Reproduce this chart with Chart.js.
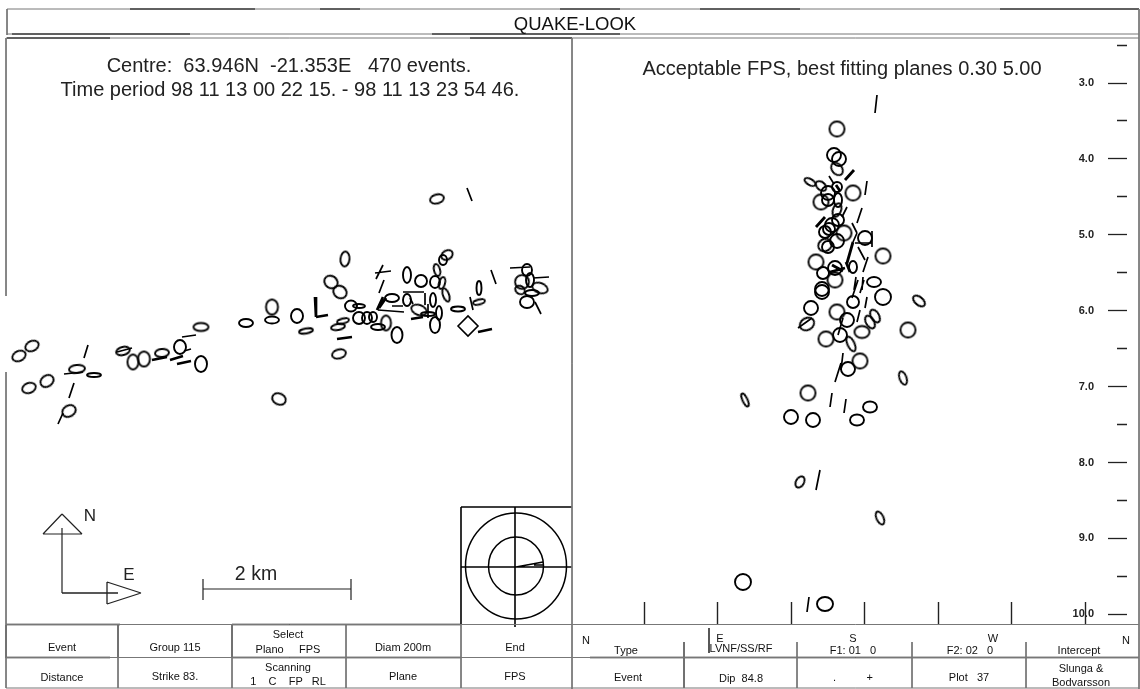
<!DOCTYPE html>
<html>
<head>
<meta charset="utf-8">
<title>QUAKE-LOOK</title>
<script src="https://cdn.jsdelivr.net/npm/chart.js@4"></script>
<style>
    html, body { margin: 0; background: #fff; }
    #page { position: relative; width: 1140px; height: 689px; overflow: hidden; filter: blur(0.35px); }
    #chart { position: absolute; left: 0; top: 0; }
    .t { position: absolute; transform: translate(-50%, -50%); white-space: pre; color: #111;
         font-family: "Liberation Sans", Arial, sans-serif; font-size: 11px; }
    .big { font-size: 20px; color: #222; }
    .head { font-size: 18.5px; }
</style>
</head>
<body>
<div id="page">
    <canvas id="chart" width="1140" height="689"></canvas>
    <div class="t head" style="left:575px;top:24px">QUAKE-LOOK</div>
    <div class="t big" style="left:289px;top:65px">Centre:  63.946N  -21.353E   470 events.</div>
    <div class="t big" style="left:290px;top:89px">Time period 98 11 13 00 22 15. - 98 11 13 23 54 46.</div>
    <div class="t big" style="left:842px;top:68px">Acceptable FPS, best fitting planes 0.30 5.00</div>
    <div class="t big" style="left:90px;top:516px;font-size:17px">N</div>
    <div class="t big" style="left:129px;top:575px;font-size:17px">E</div>
    <div class="t big" style="left:256px;top:573px;font-size:19.5px">2 km</div>

    <div class="t" style="left:62px;top:647px">Event</div>
    <div class="t" style="left:175px;top:647px">Group 115</div>
    <div class="t" style="left:288px;top:634px">Select</div>
    <div class="t" style="left:288px;top:649px">Plano     FPS</div>
    <div class="t" style="left:403px;top:647px">Diam 200m</div>
    <div class="t" style="left:515px;top:647px">End</div>
    <div class="t" style="left:62px;top:677px">Distance</div>
    <div class="t" style="left:175px;top:676px">Strike 83.</div>
    <div class="t" style="left:288px;top:667px">Scanning</div>
    <div class="t" style="left:288px;top:681px">1    C    FP   RL</div>
    <div class="t" style="left:403px;top:676px">Plane</div>
    <div class="t" style="left:515px;top:676px">FPS</div>

    <div class="t" style="left:586px;top:640px">N</div>
    <div class="t" style="left:626px;top:650px">Type</div>
    <div class="t" style="left:720px;top:638px">E</div>
    <div class="t" style="left:741px;top:648px">LVNF/SS/RF</div>
    <div class="t" style="left:853px;top:638px">S</div>
    <div class="t" style="left:853px;top:650px">F1: 01   0</div>
    <div class="t" style="left:993px;top:638px">W</div>
    <div class="t" style="left:970px;top:650px">F2: 02   0</div>
    <div class="t" style="left:1126px;top:640px">N</div>
    <div class="t" style="left:1079px;top:650px">Intercept</div>
    <div class="t" style="left:628px;top:677px">Event</div>
    <div class="t" style="left:741px;top:678px">Dip  84.8</div>
    <div class="t" style="left:853px;top:677px">.          +</div>
    <div class="t" style="left:969px;top:677px">Plot   37</div>
    <div class="t" style="left:1081px;top:668px">Slunga &amp;</div>
    <div class="t" style="left:1081px;top:682px">Bodvarsson</div>
</div>
<script>
// everything is in plot units, except depth (km) and azimuth (deg)
// ellipse rows: x, y, rx, ry, tilt
const mapEvents = [
    [19,356,7,5,-25], [32,346,7,5,-25], [29,388,7,5,-20], [47,381,7,5.5,-35], [77,369,8,4,-5],
    [94,375,7,2,0], [69,411,7,5.5,-30], [123,351,7,4,-15], [133,362,5.5,7.5,0], [144,359,6,7.5,0],
    [162,353,7,4,-5], [180,347,6,7,0], [201,327,7.5,4,0], [201,364,6,8,0], [246,323,7,4,0],
    [272,307,6,7.5,0], [272,320,7,3.5,0], [297,316,6,7,0], [279,399,7,5.5,25], [437,199,7,4.5,-15],
    [345,259,4.5,7.5,5], [331,282,7,6,35], [340,292,7,6,35], [351,306,6,5.5,0], [359,306,6,2,0],
    [306,331,7,2.5,-10], [338,327,7,3,-10], [343,321,6,2.5,-15], [339,354,7,4.5,-15], [359,318,6,6,0],
    [367,318,5,6,0], [373,317,4,5,0], [378,327,7,3,0], [386,323,5,7.5,0], [397,335,5.5,8,0],
    [392,298,7,4,0], [407,300,4,6,0], [407,275,4,8,0], [421,281,6,6,0], [437,270,3,6,-15],
    [447,255,6,4.5,-30], [443,260,4,5,0], [435,282,5,6,0], [442,283,3,6,15], [446,295,3,7,-20],
    [433,300,3,7,0], [439,313,3,7,0], [435,325,5,8,0], [419,310,8,5,20], [428,314,7,2,0],
    [458,309,7,2.5,0], [479,302,6,2.5,-15], [479,288,2.5,7,0], [527,270,5,6,0], [522,282,7,7,45],
    [530,280,4,7,0], [540,288,8,5,20], [532,293,7,3,0], [527,302,7,6,0], [520,290,5,4,30]
];
const mapStrokes = [
    [64,374,83,372], [88,345,84,358], [74,383,69,398], [63,413,58,424], [117,352,132,348],
    [182,337,196,335], [184,351,191,349], [376,279,383,265], [375,273,391,271], [384,280,379,293],
    [403,292,424,292], [392,306,403,306], [467,188,472,201], [491,270,496,284], [510,268,530,267],
    [533,278,549,277], [535,302,541,314], [470,297,473,310], [410,298,413,304], [378,310,404,312],
    [425,293,425,305], [428,304,428,318]
];
const mapHeavyStrokes = [
    [152,360,167,357], [170,360,183,356], [177,364,191,361], [315,297,316,317], [316,317,328,315],
    [337,339,352,337], [377,310,383,297], [411,319,423,317], [478,332,492,329], [379,308,386,298]
];
const mapDiamond = [[468,326]];

const sectionEvents = [
    [837,129,7.5,7.5,0], [834,155,7,7,0], [839,159,7,7,0], [837,169,7,5,50], [810,182,6,3,30],
    [821,186,6,4,40], [837,187,5,5,0], [853,193,7.5,7.5,0], [828,193,7,7,0], [821,202,7.5,7.5,0],
    [828,200,6,6,0], [838,200,4,7,0], [837,210,4,7,20], [838,220,6,6,0], [832,225,7,7,0],
    [829,229,6,6,0], [844,233,7.5,7.5,0], [825,232,6,6,0], [837,241,7,7,0], [825,245,7,6,-30],
    [828,247,6,6,0], [865,238,7,7,0], [883,256,7.5,7.5,0], [816,262,7.5,7.5,0], [823,273,6,6,0],
    [835,268,7,7,0], [835,280,7.5,7.5,0], [853,267,4,6,0], [874,282,7,5,0], [822,289,7,7,0],
    [822,292,7,7,0], [883,297,8,8,0], [919,301,7,4,40], [811,308,7,7,0], [837,312,7.5,7.5,0],
    [853,302,6,6,0], [847,320,7,7,0], [807,324,7.5,6,-30], [875,316,4,7,-30], [870,322,4,7,-30],
    [862,332,7.5,6,0], [826,339,7.5,7.5,0], [840,335,7,7,0], [908,330,7.5,7.5,0], [851,344,3.5,8,-25],
    [860,361,7.5,7.5,0], [848,369,7,7,0], [903,378,3.5,7,-20], [808,393,7.5,7.5,0], [870,407,7,5.5,0],
    [791,417,7,7,0], [813,420,7,7,0], [857,420,7,5.5,0], [745,400,2.5,7,-25], [800,482,4,6,30],
    [880,518,3.5,7,-25], [743,582,8,8,0], [825,604,8,7,0]
];
const sectionStrokes = [
    [877,95,875,113], [829,176,834,184], [867,181,865,195], [847,207,842,217], [862,208,857,223],
    [852,223,857,233], [857,233,853,242], [872,231,872,247], [855,243,872,243], [858,247,865,260],
    [868,257,863,272], [856,277,854,290], [863,277,862,290], [858,280,852,298], [864,280,860,293],
    [867,297,865,308], [860,310,857,322], [798,328,812,318], [843,318,838,335], [843,353,841,370],
    [841,363,835,382], [832,393,830,407], [846,399,844,413], [820,470,816,490], [809,597,807,612]
];
const sectionHeavyStrokes = [
    [845,180,854,170], [825,217,816,227], [853,242,847,263], [832,265,843,271], [846,262,850,272],
    [830,272,845,268], [836,185,840,191]
];

const northArrow = [[62,528,62,593], [62,514,43,534], [43,534,82,534], [82,534,62,514]];
const eastArrow = [[62,593,118,593], [107,582,141,593], [141,593,107,604], [107,604,107,582]];
const scaleBar = [[203,589,351,589], [203,579,203,600], [351,579,351,600]];

const stereonetRings = [[516,566,50.5,53], [516,566,27.5,29]];
const stereonetLines = [[461,507,572,507], [461,507,461,625], [461,567,572,567], [515,507,515,627],
    [516,567,543,562], [534,565,543,565]];

const frameLines = [
    [7,9,1139,9], [7,9,7,35], [7,34,1139,34], [6,38,1139,38], [1139,9,1139,689],
    [6,38,6,296], [6,372,6,688], [572,38,572,689],
    [6,624.5,1139,624.5], [6,657.5,1139,657.5], [6,688,1139,688],
    [118,625,118,688], [232,625,232,688], [346,625,346,688], [461,625,461,688],
    [684,642,684,688], [797,642,797,688], [912,642,912,688], [1026,642,1026,688]
];
const frameHeavy = [
    [130,9,255,9], [320,9,360,9], [560,9,620,9], [700,9,800,9], [1000,9,1139,9],
    [12,34,190,34], [432,34,620,34], [7,38,110,38], [470,38,572,38],
    [6,624.5,120,624.5], [232,624.5,461,624.5], [6,657.5,110,657.5], [232,657.5,461,657.5], [590,657.5,1139,657.5],
    [118,625,118,658], [232,625,232,658], [6,625,6,658], [709,628,709,653], [684,642,684,688]
];

const depthMajor = [3, 4, 5, 6, 7, 8, 9, 10];
const depthMinor = [2.5, 3.5, 4.5, 5.5, 6.5, 7.5, 8.5, 9.5];
const azimuthTicks = [45, 90, 135, 180, 225, 270, 315];

const INK = "#000";
const sprites = {};

function ellipseSprite(rx, ry, lineWidth) {
    const key = rx + "/" + ry + "/" + lineWidth;
    if (sprites[key]) return sprites[key];
    const size = Math.ceil(2 * Math.max(rx, ry) + 6);
    const c = document.createElement("canvas");
    c.width = size;
    c.height = size;
    const g = c.getContext("2d");
    g.strokeStyle = INK;
    g.lineWidth = lineWidth;
    g.beginPath();
    g.ellipse(size / 2, size / 2, rx, ry, 0, 0, Math.PI * 2);
    g.stroke();
    sprites[key] = c;
    return c;
}

function ellipseDataset(rows, lineWidth) {
    return {
        type: "scatter",
        data: rows.map(r => ({ x: r[0], y: r[1] })),
        pointStyle: rows.map(r => ellipseSprite(r[2], r[3], lineWidth)),
        pointRotation: rows.map(r => r[4] || 0),
        clip: false
    };
}

function strokeDataset(segments, width, color) {
    const points = [];
    segments.forEach(s => {
        points.push({ x: s[0], y: s[1] }, { x: s[2], y: s[3] }, { x: null, y: null });
    });
    return {
        type: "line",
        data: points,
        borderColor: color,
        borderWidth: width,
        pointRadius: 0,
        spanGaps: false,
        clip: false
    };
}

function fixedTicks(values) {
    return scale => { scale.ticks = values.map(v => ({ value: v })); };
}

// the tick labels would otherwise ask the layout for room and shrink the chart area
function noPadding(scale) {
    scale.paddingTop = scale.paddingBottom = scale.paddingLeft = scale.paddingRight = 0;
}

// depth km mapped over the whole canvas height, 3.0 sits at y=83
function depthAxis(atX, values, grid, ticks) {
    return {
        axis: "y", type: "linear", reverse: true,
        min: 3 - 83 / 75.9, max: 3 + (689 - 83) / 75.9,
        position: { x: atX },
        afterBuildTicks: fixedTicks(values),
        afterFit: noPadding,
        border: { display: false },
        grid: Object.assign({ drawOnChartArea: false, tickColor: "#222" }, grid),
        ticks: Object.assign({ autoSkip: false }, ticks)
    };
}

new Chart(document.getElementById("chart"), {
    data: {
        datasets: [
            strokeDataset(frameLines, 1, "#777"),
            strokeDataset(frameHeavy, 1.4, "#111"),
            strokeDataset(mapStrokes, 1.7, INK),
            strokeDataset(mapHeavyStrokes, 2.7, INK),
            strokeDataset(sectionStrokes, 1.7, INK),
            strokeDataset(sectionHeavyStrokes, 2.8, INK),
            strokeDataset(northArrow, 1.2, "#222"),
            strokeDataset(eastArrow, 1.3, "#222"),
            strokeDataset(scaleBar, 1.2, "#222"),
            strokeDataset(stereonetLines, 1.6, INK),
            ellipseDataset(mapEvents, 1.9),
            ellipseDataset(sectionEvents, 1.9),
            ellipseDataset(stereonetRings.map(r => [r[0], r[1], r[2], r[3], 0]), 1.5),
            {
                type: "scatter",
                data: mapDiamond.map(r => ({ x: r[0], y: r[1] })),
                pointStyle: "rectRot",
                pointRadius: 10,
                backgroundColor: "rgba(0,0,0,0)",
                borderColor: INK,
                borderWidth: 1.6,
                clip: false
            }
        ]
    },
    options: {
        responsive: false,
        animation: false,
        events: [],
        layout: { padding: 0, autoPadding: false },
        plugins: { legend: { display: false }, tooltip: { enabled: false } },
        scales: {
            x: { type: "linear", min: 0, max: 1140, display: false },
            y: { type: "linear", min: 0, max: 689, reverse: true, display: false },
            depthLabels: depthAxis(1094, depthMajor, { drawTicks: false }, {
                color: "#222",
                font: { family: "Liberation Sans", size: 11, weight: "bold" },
                callback: v => v.toFixed(1)
            }),
            depthTicks: depthAxis(1127, depthMajor, { tickLength: 19, tickWidth: 1.3 }, { display: false }),
            depthHalf: depthAxis(1127, depthMinor, { tickLength: 10, tickWidth: 1.5 }, { display: false }),
            azimuth: {
                axis: "x", type: "linear",
                min: -571 / 1.633, max: (1140 - 571) / 1.633,
                position: { y: 602 },
                afterBuildTicks: fixedTicks(azimuthTicks),
                afterFit: noPadding,
                border: { display: false },
                grid: { drawOnChartArea: false, tickLength: 22, tickColor: "#222", tickWidth: 1.4 },
                ticks: { display: false, autoSkip: false }
            }
        }
    }
});
</script>
</body>
</html>
